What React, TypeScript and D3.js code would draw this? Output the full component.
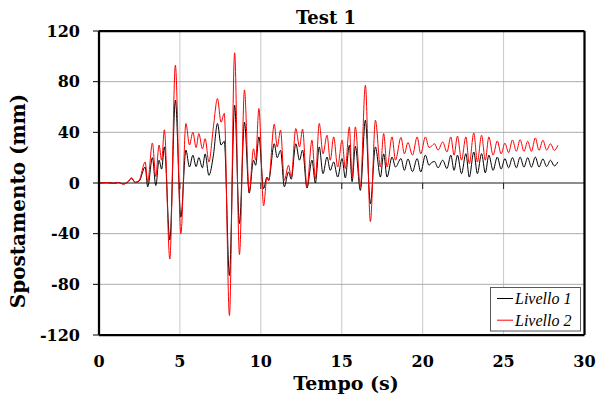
import React from 'react';
import * as d3 from 'd3';

const time = [
  0, 0.5, 0.9, 1.2, 1.5, 1.75,
  2.02, 2.23, 2.48, 2.85, 3.01,
  3.3, 3.51, 3.71, 3.87, 4.04,
  4.375, 4.72, 5.06, 5.37, 5.59,
  5.8, 6.0, 6.17, 6.39, 6.56,
  6.79, 7.07, 7.32, 7.54, 7.74,
  8.06, 8.38, 8.68, 8.99, 9.28,
  9.55, 9.68, 9.88, 10.17, 10.38,
  10.48, 10.83, 11.01, 11.22, 11.45,
  11.71, 11.88, 12.16, 12.39, 12.58,
  12.85, 13.16, 13.37, 13.61, 13.84,
  14.09, 14.29, 14.5, 14.75, 15.02,
  15.22, 15.47, 15.64, 15.84, 16.15,
  16.46, 16.77, 17.08, 17.39, 17.59,
  17.8, 18.11, 18.32, 18.66, 18.87,
  19.09, 19.37, 19.66, 19.88, 20.17,
  20.39, 20.54, 20.73, 20.95, 21.24,
  21.5, 21.74, 21.94, 22.15, 22.4,
  22.67, 22.88, 23.16, 23.38, 23.64,
  23.87, 24.09, 24.35, 24.61, 24.85,
  25.08, 25.31, 25.55, 25.79, 26.02,
  26.26, 26.49, 26.72, 26.96, 27.19,
  27.43, 27.66, 27.9, 28.13, 28.36,
];

const livello1 = [
  0, 0.3, -0.2, 0.4, -0.8, 0.5,
  3.5, 0.5, 1.5, 12.6, -3,
  20, -2, 18, 11, 28.5,
  -45, 65.4, -27, 26, 12.6,
  22, 13, 20, 12, 23,
  6, 22, 47, 30, 33,
  -73, 61.4, -32, 48, -8,
  18, 14, 36.4, -4.4, 4.7,
  2, 31, 20, 25.8, -3,
  8.7, 3, 31, 18, 26,
  -4, 18, 0, 28.5, 7.4,
  20.5, 10, 16.6, 4.7, 19.3,
  4, 29.8, 1, 29, -5.8,
  49.6, -16.3, 28.5, 4.7, 23,
  4.7, 20.5, 12.6, 19.3, 10,
  19, 9, 19.3, 8.7, 22,
  14, 16, 17, 12, 18,
  11.4, 22, 10, 22, 7.4,
  23.2, 4.7, 24.5, 7.4, 23.2,
  8, 22, 10, 20.5, 11,
  19.3, 12, 20, 12, 20.5,
  12.5, 20, 12.5, 20.5, 12.6,
  19, 13, 18, 13.5, 16.6,
];

const livello2 = [
  0, 0.3, -0.2, 0.4, -0.8, 0.5,
  4.2, 0.5, 2, 16.6, 1,
  31.6, 5, 30, 18, 42,
  -60, 93, -40, 47, 30,
  40, 28, 39, 27, 35,
  16.6, 44.3, 66.7, 48, 55,
  -104.6, 102.8, -56.4, 73.5, -7,
  27, 18, 58.8, -18, 4.7,
  2, 46.4, 28.5, 41.7, 2,
  14, 4.7, 43, 28.5, 42.5,
  -3, 33.8, 3.4, 47, 23,
  37.7, 18, 36.4, 12.6, 33.8,
  11.4, 44.3, 4.7, 44.3, -3,
  77.2, -30.5, 49.6, 12.6, 39,
  12.6, 36.4, 18, 36, 23,
  32, 22, 36.4, 23, 36.4,
  28, 29, 31, 26, 32.4,
  24.5, 36.4, 22, 37, 18,
  36.4, 15.3, 39.5, 16.6, 37.7,
  18, 36.4, 22, 33.2, 23,
  31.5, 24, 34, 25, 34.2,
  25, 33, 25, 35.6, 25.8,
  33.8, 26, 31, 25.8, 29.8,
];

const xTicks = [0, 5, 10, 15, 20, 25, 30];
const yTicks = [-120, -80, -40, 0, 40, 80, 120];
const seriesNames = ['Livello 1', 'Livello 2'];
const seriesColors = ['#000000', '#ff0000'];
const seriesValues = [livello1, livello2];

const titleText = 'Test 1';
const xTitle = 'Tempo (s)';
const yTitle = 'Spostamento (mm)';

export default function App() {
  const W = 598;
  const H = 400;
  const x = d3.scaleLinear().domain([0, 30]).range([99, 584.5]);
  const y = d3.scaleLinear().domain([-120, 120]).range([335, 31]);
  const line = (vals: number[]) =>
    d3
      .line<number>()
      .x((_, i) => x(time[i]))
      .y((d) => y(d))
      .curve(d3.curveMonotoneX)(vals) || '';

  const bold = { fontFamily: 'DejaVu Serif', fontWeight: 'bold' as const };

  return (
    <svg
      width={W}
      height={H}
      style={{ position: 'absolute', left: 0, top: 0, background: '#fff' }}
    >
      <rect x={0} y={0} width={W} height={H} fill="#fff" />
      {xTicks.slice(1, -1).map((t) => (
        <line key={'vx' + t} x1={x(t)} x2={x(t)} y1={y(120)} y2={y(-120)} stroke="#c8c8c8" strokeWidth={1} />
      ))}
      {yTicks.filter((v) => v !== 0 && Math.abs(v) !== 120).map((v) => (
        <line key={'hy' + v} x1={x(0)} x2={x(30)} y1={y(v)} y2={y(v)} stroke="#ababab" strokeWidth={1} />
      ))}
      <line x1={x(0)} x2={x(30)} y1={y(0)} y2={y(0)} stroke="#1a1a1a" strokeWidth={1} />
      {xTicks.map((t) => (
        <line key={'xt' + t} x1={x(t)} x2={x(t)} y1={y(0)} y2={y(0) + 6} stroke="#1a1a1a" strokeWidth={1} />
      ))}
      {seriesValues.map((vals, i) => (
        <path key={'s' + i} d={line(vals)} fill="none" stroke={seriesColors[i]} strokeWidth={1} />
      ))}
      <line x1={x(0)} x2={x(30)} y1={y(120)} y2={y(120)} stroke="#000" strokeWidth={2.25} />
      <line x1={x(30)} x2={x(30)} y1={y(120)} y2={y(-120)} stroke="#000" strokeWidth={2.25} />
      <line x1={x(0)} x2={x(30)} y1={y(-120)} y2={y(-120)} stroke="#000" strokeWidth={2.25} />
      <line x1={x(0)} x2={x(0)} y1={y(120)} y2={y(-120)} stroke="#000" strokeWidth={2.25} />
      {yTicks.map((v) => (
        <line key={'yt' + v} x1={x(0) - 6} x2={x(0)} y1={y(v)} y2={y(v)} stroke="#000" strokeWidth={1} />
      ))}
      {yTicks.map((v) => (
        <text key={'yl' + v} x={80} y={y(v)} dy="0.36em" textAnchor="end" fontSize={16} {...bold} fill="#000">
          {v}
        </text>
      ))}
      {xTicks.map((t) => (
        <text key={'xl' + t} x={x(t)} y={367} textAnchor="middle" fontSize={16} {...bold} fill="#000">
          {t}
        </text>
      ))}
      <text x={326} y={24} textAnchor="middle" fontSize={18} {...bold} fill="#000">
        {titleText}
      </text>
      <text x={346} y={390} textAnchor="middle" fontSize={19} {...bold} fill="#000">
        {xTitle}
      </text>
      <text
        transform={`translate(25,201) rotate(-90)`}
        textAnchor="middle"
        fontSize={20}
        {...bold}
        fill="#000"
      >
        {yTitle}
      </text>
      <rect x={490.5} y={287.5} width={90} height={43.5} fill="#fff" stroke="#595959" strokeWidth={1} />
      {seriesNames.map((n, i) => (
        <g key={'lg' + i}>
          <line x1={497} x2={513} y1={298.5 + i * 21.7} y2={298.5 + i * 21.7} stroke={seriesColors[i]} strokeWidth={1} />
          <text x={515} y={304 + i * 21.7} fontSize={16} fontFamily="Liberation Serif" fontStyle="italic" fill="#000">
            {n}
          </text>
        </g>
      ))}
    </svg>
  );
}
